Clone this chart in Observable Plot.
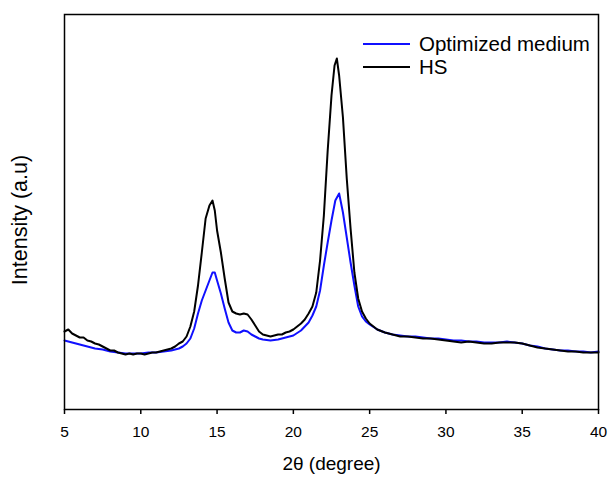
<!DOCTYPE html>
<html>
<head>
<meta charset="utf-8">
<script src="https://cdn.jsdelivr.net/npm/d3@7"></script>
<script src="https://cdn.jsdelivr.net/npm/@observablehq/plot@0.6"></script>
<style>
  html, body { margin: 0; padding: 0; background: #fff; }
  #wrap { position: relative; width: 608px; height: 477px; font-family: "Liberation Sans", Arial, sans-serif; }
  #legend { position: absolute; left: 363px; top: 32px; font-size: 20.5px; color: #000; line-height: 23px; }
  #legend .item { display: flex; align-items: center; }
  #legend svg { margin-right: 9px; }
</style>
</head>
<body>
<div id="wrap">
  <div id="chart"></div>
  <div id="legend"></div>
</div>
<script>
const seriesNames = ["Optimized medium", "HS"];
const seriesColors = ["#1010ff", "#000000"];
const xTicks = [5, 10, 15, 20, 25, 30, 35, 40];

// HS (black) pattern: 2θ and intensity (a.u.)
const hsTheta = [5.00,5.25,5.50,5.75,6.00,6.25,6.50,6.75,7.00,7.25,7.50,7.75,8.00,8.25,8.50,8.75,9.00,9.25,9.50,9.75,10.00,10.25,10.50,10.75,11.00,11.25,11.50,11.75,12.00,12.25,12.50,12.75,13.00,13.25,13.50,13.75,14.00,14.25,14.50,14.70,14.85,15.00,15.25,15.50,15.75,16.00,16.25,16.50,16.75,17.00,17.25,17.50,17.75,18.00,18.25,18.50,18.75,19.00,19.25,19.50,19.75,20.00,20.25,20.50,20.75,21.00,21.25,21.50,21.75,22.00,22.25,22.50,22.70,22.85,23.00,23.25,23.50,23.75,24.00,24.25,24.50,24.75,25.00,25.50,26.00,26.50,27.00,27.50,28.00,28.50,29.00,29.50,30.00,30.50,31.00,31.50,32.00,32.50,33.00,33.50,34.00,34.50,35.00,35.50,36.00,36.50,37.00,37.50,38.00,38.50,39.00,39.50,40.00];
const hsIntensity = [78,80,76,74,72,72,69,68,66,65,63,61,59,59,57,56,55,56,55,56,56,55,56,57,57,58,59,60,61,63,66,68,73,83,98,124,157,191,204,209,199,179,157,131,107,98,96,95,96,95,90,84,78,75,74,73,74,75,75,77,78,80,83,86,90,96,103,117,149,194,259,314,344,351,334,292,231,181,137,111,98,91,86,80,77,75,73,73,72,71,71,70,69,68,67,68,67,66,66,67,67,67,66,64,62,61,60,59,58,58,57,57,57];

// Optimized medium (blue) pattern
const omTheta = [5.00,5.25,5.50,5.75,6.00,6.50,7.00,7.50,8.00,8.50,9.00,9.50,10.00,10.50,11.00,11.50,12.00,12.50,12.75,13.00,13.25,13.50,13.75,14.00,14.25,14.50,14.70,14.85,15.00,15.25,15.50,15.75,16.00,16.25,16.50,16.75,17.00,17.25,17.50,17.75,18.00,18.50,19.00,19.50,20.00,20.50,21.00,21.25,21.50,21.75,22.00,22.25,22.50,22.75,23.00,23.25,23.50,23.75,24.00,24.25,24.50,24.75,25.00,25.50,26.00,26.50,27.00,27.50,28.00,28.50,29.00,29.50,30.00,30.50,31.00,31.50,32.00,32.50,33.00,33.50,34.00,34.50,35.00,35.50,36.00,36.50,37.00,37.50,38.00,38.50,39.00,39.50,40.00];
const omIntensity = [69,68,67,66,65,63,61,60,58,57,56,56,56,57,57,58,59,61,63,66,71,81,96,109,119,129,137,137,129,116,101,87,79,77,77,79,78,75,73,71,70,69,70,72,74,79,87,94,103,119,144,167,189,209,216,197,172,147,124,103,93,88,85,80,77,75,74,73,73,72,71,71,70,69,69,68,68,67,67,67,68,67,66,64,63,61,60,59,59,58,58,57,58];

const rows = [];
omTheta.forEach((t, i) => rows.push({series: seriesNames[0], theta: t, intensity: omIntensity[i]}));
hsTheta.forEach((t, i) => rows.push({series: seriesNames[1], theta: t, intensity: hsIntensity[i]}));

const font = "Liberation Sans, Arial, sans-serif";

const chart = Plot.plot({
  width: 608,
  height: 477,
  marginLeft: 64,
  marginRight: 10,
  marginTop: 14,
  marginBottom: 68,
  style: {fontFamily: font, color: "#000", background: "#fff"},
  x: {domain: [5, 40]},
  y: {domain: [0, 395]},
  color: {domain: seriesNames, range: seriesColors},
  marks: [
    Plot.line(rows, {x: "theta", y: "intensity", z: "series", stroke: "series", strokeWidth: 2, curve: "linear"}),
    Plot.frame({stroke: "#000", strokeWidth: 1.5}),
    Plot.axisX({ticks: xTicks, tickSize: 5, tickPadding: 11, fontSize: 15.5, label: null, stroke: "#000", strokeWidth: 1.5}),
    Plot.axisY({ticks: [], label: null}),
    Plot.text(["2θ (degree)"], {frameAnchor: "bottom", dy: 60, fontSize: 19, fill: "#000"}),
    Plot.text(["Intensity (a.u)"], {frameAnchor: "left", textAnchor: "middle", rotate: -90, dx: -44, dy: 8, fontSize: 21.5, fill: "#000"})
  ]
});
document.getElementById("chart").appendChild(chart);

const legend = document.getElementById("legend");
seriesNames.forEach((name, i) => {
  const item = document.createElement("div");
  item.className = "item";
  item.innerHTML = `<svg width="47" height="4"><line x1="0" y1="2" x2="47" y2="2" stroke="${seriesColors[i]}" stroke-width="2"/></svg><span>${name}</span>`;
  legend.appendChild(item);
});
</script>
</body>
</html>
